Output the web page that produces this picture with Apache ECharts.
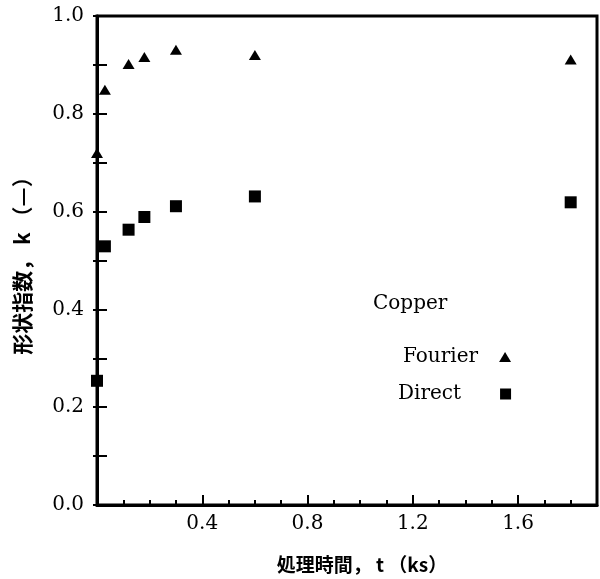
<!DOCTYPE html>
<html>
<head>
<meta charset="utf-8">
<script src="https://cdn.jsdelivr.net/npm/echarts@6/dist/echarts.min.js"></script>
<style>
  html, body { margin: 0; padding: 0; background: #fff; }
  #chart { width: 600px; height: 579px; }
</style>
</head>
<body>
<div id="chart"></div>
<script>
// Treatment time (ks) for each measurement
const times = [0, 0.03, 0.12, 0.18, 0.3, 0.6, 1.8];
// Shape index k from the Fourier method
const fourierK = [0.72, 0.849, 0.902, 0.916, 0.931, 0.92, 0.911];
// Shape index k from the direct method
const directK = [0.254, 0.529, 0.563, 0.589, 0.611, 0.631, 0.619];
// Labelled ticks
const xTickLabels = ['0.4', '0.8', '1.2', '1.6'];
const yTickLabels = ['0.0', '0.2', '0.4', '0.6', '0.8', '1.0'];

const pairs = (xs, ys) => xs.map((x, i) => [x, ys[i]]);

const tickFont = { fontFamily: 'DejaVu Serif', fontSize: 20, color: '#000' };
const legendFont = { fontFamily: 'DejaVu Serif', fontSize: 20, color: '#000' };
const cjkFont = 'Noto Sans CJK JP';

const chart = echarts.init(document.getElementById('chart'));
chart.setOption({
  animation: false,
  backgroundColor: '#fff',
  title: {
    text: 'Copper',
    left: 373,
    top: 294,
    padding: 0,
    textStyle: Object.assign({ fontWeight: 'normal' }, legendFont)
  },
  legend: [
    {
      data: [{ name: 'Fourier', icon: 'triangle' }],
      orient: 'vertical',
      align: 'right',
      left: 403,
      top: 347,
      padding: 0,
      itemWidth: 12,
      itemHeight: 10,
      selectedMode: false,
      itemStyle: { color: '#000', opacity: 1 },
      textStyle: Object.assign({ padding: [0, 16, 0, 0] }, legendFont)
    },
    {
      data: [{ name: 'Direct', icon: 'rect' }],
      orient: 'vertical',
      align: 'right',
      left: 398,
      top: 384,
      padding: 0,
      itemWidth: 11,
      itemHeight: 11,
      selectedMode: false,
      itemStyle: { color: '#000', opacity: 1 },
      textStyle: Object.assign({ padding: [0, 34, 0, 0] }, legendFont)
    }
  ],
  grid: {
    left: 97,
    right: 2,
    top: 16,
    bottom: 73,
    show: true,
    borderColor: '#000',
    borderWidth: 3
  },
  xAxis: [
    {
      type: 'value',
      min: 0,
      max: 1.9,
      interval: 0.4,
      position: 'bottom',
      name: '処理時間， t （ks）',
      nameLocation: 'middle',
      nameGap: 50,
      nameTextStyle: {
        fontFamily: cjkFont,
        fontSize: 19,
        fontWeight: 'bold',
        color: '#000',
        padding: [0, 0, 0, 30]
      },
      axisLine: { show: true, lineStyle: { color: '#000', width: 3 } },
      axisTick: { show: true, inside: true, length: 10, lineStyle: { color: '#000', width: 2 } },
      axisLabel: Object.assign({
        margin: 9,
        formatter: v => {
          const s = v.toFixed(1);
          return xTickLabels.includes(s) ? s : '';
        }
      }, tickFont),
      splitLine: { show: false }
    },
    {
      type: 'value',
      min: 0,
      max: 1.9,
      interval: 0.1,
      position: 'bottom',
      axisLine: { show: false },
      axisTick: { show: true, inside: true, length: 5, lineStyle: { color: '#000', width: 2 } },
      axisLabel: { show: false },
      splitLine: { show: false }
    }
  ],
  yAxis: [
    {
      type: 'value',
      min: 0,
      max: 1,
      interval: 0.1,
      position: 'left',
      name: '形状指数， k （—）',
      nameLocation: 'middle',
      nameGap: 64,
      nameTextStyle: {
        fontFamily: cjkFont,
        fontSize: 21,
        fontWeight: 'bold',
        color: '#000'
      },
      axisLine: { show: true, lineStyle: { color: '#000', width: 3 } },
      axisTick: { show: true, inside: true, length: 10, lineStyle: { color: '#000', width: 2 } },
      axisLabel: Object.assign({
        margin: 13,
        formatter: v => {
          const s = v.toFixed(1);
          return yTickLabels.includes(s) ? s : '';
        }
      }, tickFont),
      splitLine: { show: false }
    },
    {
      type: 'value',
      min: 0,
      max: 1,
      interval: 0.1,
      position: 'right',
      axisLine: { show: false },
      axisTick: { show: true, inside: true, length: 4, lineStyle: { color: '#000', width: 2 } },
      axisLabel: { show: false },
      splitLine: { show: false }
    }
  ],
  series: [
    {
      name: 'Fourier',
      type: 'scatter',
      xAxisIndex: 0,
      yAxisIndex: 0,
      symbol: 'triangle',
      symbolSize: [12, 10],
      itemStyle: { color: '#000', opacity: 1 },
      data: pairs(times, fourierK)
    },
    {
      name: 'Direct',
      type: 'scatter',
      xAxisIndex: 0,
      yAxisIndex: 0,
      symbol: 'rect',
      symbolSize: 12,
      itemStyle: { color: '#000', opacity: 1 },
      data: pairs(times, directK)
    }
  ]
});
</script>
</body>
</html>
